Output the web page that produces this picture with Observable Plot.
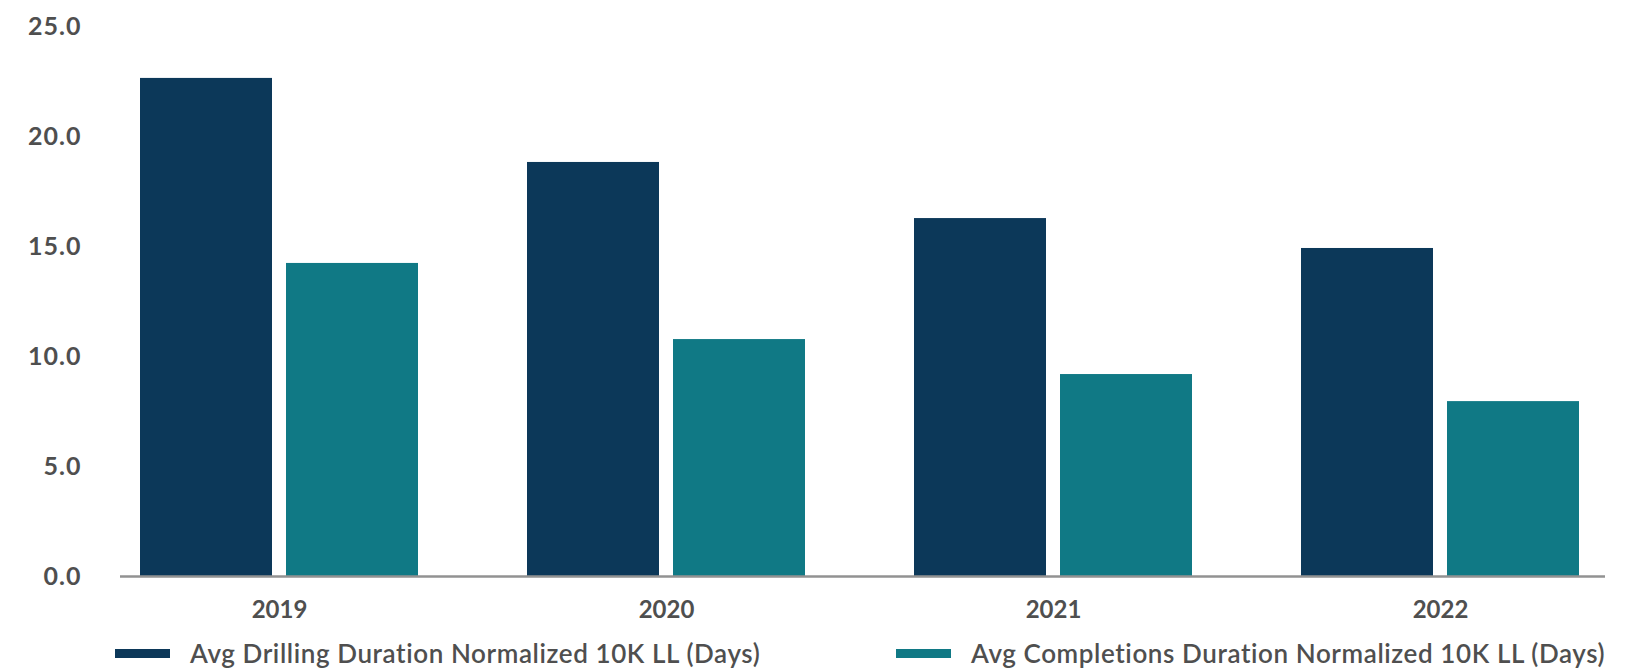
<!DOCTYPE html>
<html>
<head>
<meta charset="utf-8">
<script src="https://cdn.jsdelivr.net/npm/d3@7"></script>
<script src="https://cdn.jsdelivr.net/npm/@observablehq/plot@0.6"></script>
<style>
  html, body { margin: 0; padding: 0; background: #fff; }
  #wrap { width: 1637px; position: relative; font-family: Lato, "Open Sans", sans-serif; }
  #legend { position: relative; height: 38px; width: 1637px; }
  .item { position: absolute; top: 4px; height: 38px; display: flex; align-items: center; }
  .swatch { width: 55px; height: 9px; margin-right: 20px; }
  .label { font-size: 26px; font-weight: 600; letter-spacing: 0.6px; color: #4f4f4f; white-space: nowrap; }
</style>
</head>
<body>
<div id="wrap">
  <div id="chart"></div>
  <div id="legend"></div>
</div>
<script>
// Yearly averages, in days, normalized to a 10K ft lateral length
const years = ["2019", "2020", "2021", "2022"];
const seriesNames = [
  "Avg Drilling Duration Normalized 10K LL (Days)",
  "Avg Completions Duration Normalized 10K LL (Days)"
];
const drilling = [22.64, 18.82, 16.27, 14.91];
const completions = [14.23, 10.77, 9.18, 7.95];
const yTicks = [0, 5, 10, 15, 20, 25];
const colors = ["#0c3859", "#107985"];

const rows = years.flatMap((year, i) => [
  {year, series: seriesNames[0], value: drilling[i]},
  {year, series: seriesNames[1], value: completions[i]}
]);

const marginLeft = 120, marginRight = 32;
const textColor = "#4f4f4f";

const chart = Plot.plot({
  width: 1637,
  height: 630,
  marginLeft,
  marginRight,
  marginTop: 26,
  marginBottom: 54,
  style: {fontFamily: "Lato, 'Open Sans', sans-serif", background: "#fff"},
  fx: {domain: years, paddingInner: 0.2, paddingOuter: 0.016, align: 0.25, label: null},
  x: {domain: seriesNames, paddingInner: 0.096, paddingOuter: 0.1096, axis: null},
  y: {domain: [0, 25], label: null},
  color: {domain: seriesNames, range: colors},
  marks: [
    Plot.axisY({
      ticks: yTicks,
      tickFormat: d => d.toFixed(1),
      tickSize: 0,
      tickPadding: 43,
      fontSize: 25,
      fontWeight: "bold",
      fill: textColor,
      label: null
    }),
    Plot.axisFx({
      anchor: "bottom",
      tickSize: 0,
      tickPadding: 24,
      fontSize: 24,
      fontWeight: "bold",
      fill: textColor,
      label: null
    }),
    Plot.barY(rows, {fx: "year", x: "series", y: "value", fill: "series"})
  ]
});

// Slightly looser spacing on the value labels
d3.select(chart).selectAll("[aria-label='y-axis tick label'] text")
  .style("letter-spacing", "1px");

// Category baseline running the full width of the plot area
const y0 = chart.scale("y").apply(0);
d3.select(chart).append("line")
  .attr("x1", marginLeft)
  .attr("x2", 1637 - marginRight)
  .attr("y1", y0 + 0.5)
  .attr("y2", y0 + 0.5)
  .attr("stroke", "#929292")
  .attr("stroke-width", 2.5);

document.getElementById("chart").append(chart);

// Legend below the chart
const legend = d3.select("#legend");
const legendLeft = [115, 896];
seriesNames.forEach((name, i) => {
  const item = legend.append("div").attr("class", "item").style("left", legendLeft[i] + "px");
  item.append("div").attr("class", "swatch").style("background", colors[i]);
  item.append("div").attr("class", "label").text(name);
});
</script>
</body>
</html>
